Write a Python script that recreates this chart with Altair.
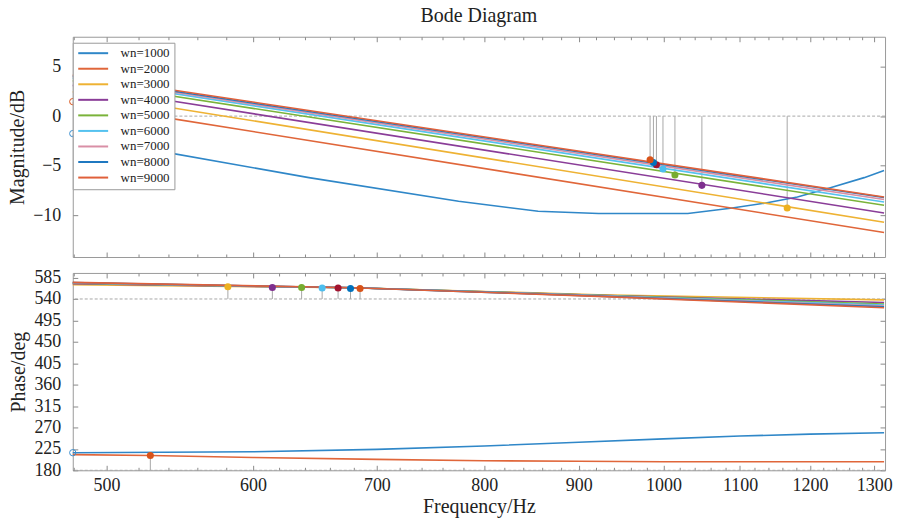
import altair as alt
import pandas as pd

# ---------------- data ----------------
SERIES = ["wn=1000", "wn=2000", "wn=3000", "wn=4000", "wn=5000",
          "wn=6000", "wn=7000", "wn=8000", "wn=9000"]
LINE_COLORS = ["#2f87c8", "#e0663a", "#eeb233", "#8a3d98", "#7ab33a",
               "#55c2ef", "#d98fa6", "#1f78c0", "#e0603a"]
MARKER_COLORS = {"wn=1000": "#3a8fd0", "wn=2000": "#d95319", "wn=3000": "#edb120",
                 "wn=4000": "#7e2f8e", "wn=5000": "#77ac30", "wn=6000": "#4dbeee",
                 "wn=7000": "#a2142f", "wn=8000": "#0072bd", "wn=9000": "#d95319"}

# magnitude (dB)
MAG_FREQ = [479.4, 534.0, 1316.0]
MAG = {
    "wn=2000": [1.35, -0.05, -11.73],
    "wn=3000": [2.45, 1.05, -10.70],
    "wn=4000": [3.10, 1.73, -9.76],
    "wn=5000": [3.57, 2.23, -8.99],
    "wn=6000": [3.83, 2.49, -8.65],
    "wn=7000": [3.96, 2.63, -8.41],
    "wn=8000": [4.04, 2.73, -8.21],
    "wn=9000": [4.15, 2.83, -8.15],
}
MAG1000_FREQ = [479.4, 534.0, 643.2, 774.9, 855.6, 922.4, 1030.8, 1087.0,
                1134.0, 1181.4, 1230.9, 1283.8, 1316.0]
MAG1000 = [-1.96, -3.53, -6.20, -8.58, -9.59, -9.82, -9.82, -9.29,
           -8.78, -8.15, -7.21, -6.20, -5.47]

# phase (deg)
PH_FREQ = [479.4, 680.0, 922.0, 1316.0]
PH = {
    "wn=3000": [570.0, 563.5, 549.0, 538.1],
    "wn=4000": [572.0, 563.5, 548.0, 532.5],
    "wn=5000": [573.0, 563.5, 547.5, 529.4],
    "wn=6000": [573.5, 563.5, 547.0, 527.3],
    "wn=7000": [574.0, 563.5, 546.5, 525.2],
    "wn=8000": [574.5, 563.5, 546.0, 523.6],
    "wn=9000": [575.0, 563.5, 545.5, 521.5],
}
PH1000_FREQ = [479.4, 600, 700, 800, 900, 1000, 1100, 1200, 1316]
PH1000 = [217, 219, 224, 231, 239, 246, 252, 256, 259]
PH2000_FREQ = [479.4, 528, 600, 700, 800, 900, 1000, 1316]
PH2000 = [213, 211, 207, 203, 200, 199, 198, 198]

# markers
MK_SERIES = ["wn=3000", "wn=4000", "wn=5000", "wn=6000", "wn=7000", "wn=8000", "wn=9000"]
MK_TOP_FREQ = [1166.5, 1049.0, 1014.4, 999.4, 991.3, 987.6, 983.5]
MK_TOP_MAG = [-9.26, -6.98, -5.94, -5.34, -4.90, -4.67, -4.40]
MK_BOT_FREQ = [581.5, 614.6, 637.4, 653.9, 667.0, 677.4, 685.5]
MK_BOT_PH = [565.7, 564.3, 564.3, 563.0, 563.0, 562.2, 562.2]
MK2000_BOT = (528.0, 211.0)

# open circles at left edge
CIRC_TOP = [("wn=2000", 479.4, 1.46), ("wn=1000", 479.4, -1.76)]
CIRC_BOT = [("wn=1000", 479.4, 217.0)]

X_DOMAIN = [479.4, 1317.6]
MAG_DOMAIN = [-14.2, 8.0]
PH_DOMAIN = [180, 594.7]
X_MAJOR = [500, 600, 700, 800, 900, 1000, 1100, 1200, 1300]
X_MINOR = [v for v in range(480, 1320, 20) if v % 100 != 0]
MAG_TICKS = [-10, -5, 0, 5]
PH_TICKS = [180, 225, 270, 315, 360, 405, 450, 495, 540, 585]

# ---------------- tables ----------------
mag_rows = [{"f": f, "v": v, "s": "wn=1000"} for f, v in zip(MAG1000_FREQ, MAG1000)]
for s, vals in MAG.items():
    mag_rows += [{"f": f, "v": v, "s": s} for f, v in zip(MAG_FREQ, vals)]
mag_df = pd.DataFrame(mag_rows)

ph_rows = [{"f": f, "v": v, "s": "wn=1000"} for f, v in zip(PH1000_FREQ, PH1000)]
ph_rows += [{"f": f, "v": v, "s": "wn=2000"} for f, v in zip(PH2000_FREQ, PH2000)]
for s, vals in PH.items():
    ph_rows += [{"f": f, "v": v, "s": s} for f, v in zip(PH_FREQ, vals)]
ph_df = pd.DataFrame(ph_rows)

mk_top = pd.DataFrame({"s": MK_SERIES, "f": MK_TOP_FREQ, "v": MK_TOP_MAG, "ref": 0.0})
mk_top["c"] = mk_top["s"].map(MARKER_COLORS)
mk_bot = pd.DataFrame({"s": MK_SERIES + ["wn=2000"], "f": MK_BOT_FREQ + [MK2000_BOT[0]],
                       "v": MK_BOT_PH + [MK2000_BOT[1]],
                       "ref": [540.0] * len(MK_SERIES) + [180.0]})
mk_bot["c"] = mk_bot["s"].map(MARKER_COLORS)
circ_top = pd.DataFrame(CIRC_TOP, columns=["s", "f", "v"])
circ_top["c"] = circ_top["s"].map(MARKER_COLORS)
circ_bot = pd.DataFrame(CIRC_BOT, columns=["s", "f", "v"])
circ_bot["c"] = circ_bot["s"].map(MARKER_COLORS)

# ---------------- styling ----------------
FONT = "Liberation Serif"
GRAY = "#a8a8a8"
W = 815

xs = alt.Scale(type="log", domain=X_DOMAIN, nice=False, zero=False)
color_scale = alt.Scale(domain=SERIES, range=LINE_COLORS)


def x_axis(orient, values, size, labels=False, title=None):
    kw = dict(orient=orient, values=values, tickSize=size, offset=-size, domain=False,
              grid=False, labels=labels, tickColor="#8a8a8a", labelFlush=False, format="d")
    if labels:
        kw.update(labelPadding=6, labelFont=FONT, labelFontSize=18, labelColor="#222")
    if title:
        kw.update(title=title, titleFont=FONT, titleFontSize=20, titleFontWeight="normal",
                  titleColor="#222", titlePadding=2)
    else:
        kw.update(title=None)
    return alt.Axis(**kw)


def y_axis(orient, values, title=None):
    kw = dict(orient=orient, values=values, tickSize=5, offset=-5, domain=False,
              grid=False, tickColor="#8a8a8a", labelFlush=False)
    if title:
        kw.update(labels=True, labelPadding=12, labelFont=FONT, labelFontSize=18,
                  labelColor="#222", title=title, titleFont=FONT, titleFontSize=20,
                  titleFontWeight="normal", titleColor="#222", titlePadding=5)
    else:
        kw.update(labels=False, title=None)
    return alt.Axis(**kw)


def panel(line_df, mk_df, circ_df, ydom, yticks, ytitle, refs, xlabels, height, legend):
    ys = alt.Scale(domain=ydom, nice=False, zero=False)
    ref_df = pd.DataFrame({"y": refs})
    refline = alt.Chart(ref_df).mark_rule(color=GRAY, strokeDash=[3, 2], strokeWidth=1).encode(
        y=alt.Y("y:Q", scale=ys, axis=None))
    stems = alt.Chart(mk_df).mark_rule(color=GRAY, strokeWidth=1).encode(
        x=alt.X("f:Q", scale=xs, axis=x_axis("bottom", X_MINOR, 3)),
        y=alt.Y("v:Q", scale=ys, axis=None),
        y2="ref:Q")
    lines = alt.Chart(line_df).mark_line(strokeWidth=1.6).encode(
        x=alt.X("f:Q", scale=xs,
                axis=x_axis("bottom", X_MAJOR, 5, labels=xlabels,
                            title="Frequency/Hz" if xlabels else None)),
        y=alt.Y("v:Q", scale=ys, axis=y_axis("left", yticks, ytitle)),
        color=alt.Color("s:N", scale=color_scale, legend=legend),
        order=alt.Order("f:Q"))
    markers = alt.Chart(mk_df).mark_point(filled=True, size=50, opacity=1).encode(
        x=alt.X("f:Q", scale=xs, axis=x_axis("top", X_MAJOR, 5)),
        y=alt.Y("v:Q", scale=ys, axis=y_axis("right", yticks)),
        fill=alt.Fill("c:N", scale=None))
    circles = alt.Chart(circ_df).mark_point(filled=False, size=40, strokeWidth=1, opacity=1).encode(
        x=alt.X("f:Q", scale=xs, axis=x_axis("top", X_MINOR, 3)),
        y=alt.Y("v:Q", scale=ys, axis=None),
        stroke=alt.Stroke("c:N", scale=None))
    return alt.layer(refline, stems, lines, markers, circles).resolve_axis(
        x="independent", y="independent").properties(width=W, height=height)


legend = alt.Legend(
    title=None, orient="none", legendX=0, legendY=6,
    symbolType="M-3,0H3", symbolSize=100, symbolStrokeWidth=2, symbolOffset=10,
    labelOffset=21, labelFont=FONT, labelFontSize=13, labelColor="#222",
    rowPadding=1.6, padding=4, fillColor="white", strokeColor="#9a9a9a",
    cornerRadius=0, labelLimit=200)

top = panel(mag_df, mk_top, circ_top, MAG_DOMAIN, MAG_TICKS, "Magnitude/dB", [0],
            False, 221, legend).properties(
    title=alt.TitleParams("Bode Diagram", font=FONT, fontSize=20, fontWeight="normal",
                          color="#222", anchor="middle", frame="group", offset=10))
bottom = panel(ph_df, mk_bot, circ_bot, PH_DOMAIN, PH_TICKS, "Phase/deg", [540, 180],
               True, 198, None)

chart = alt.vconcat(top, bottom, spacing=10).resolve_scale(color="shared").properties(
    padding={"left": 7, "top": 5, "right": 5, "bottom": 0}
).configure_view(stroke="#9a9a9a", strokeWidth=1).configure_axis(grid=False)

chart.save("out.html", embed_options={"renderer": "svg", "actions": False})
